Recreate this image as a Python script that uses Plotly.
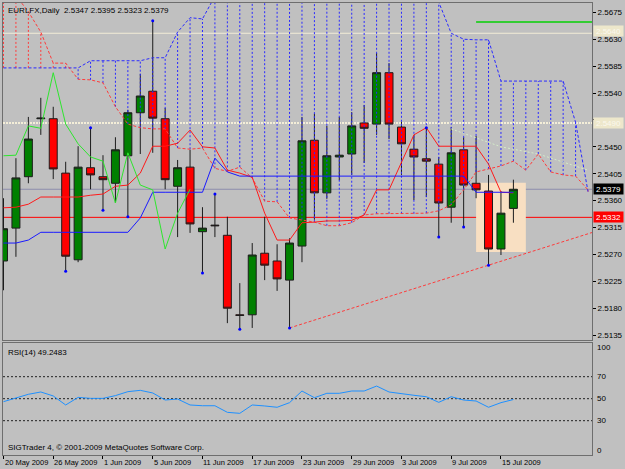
import plotly.graph_objects as go

# ---------------- data ----------------
bars = list(range(42))  # 20 May 2009 .. 16 Jul 2009 (daily)
opens = [2.5259, 2.5314, 2.5400, 2.5497, 2.5497, 2.5406, 2.5261, 2.5415, 2.5400, 2.5389,
         2.5435, 2.5507, 2.5543, 2.5497, 2.5384, 2.5416, 2.5308, 2.5319, 2.5302, 2.5169,
         2.5169, 2.5272, 2.5259, 2.5227, 2.5284, 2.5461, 2.5373, 2.5433, 2.5438, 2.5490,
         2.5488, 2.5574, 2.5483, 2.5446, 2.5430, 2.5421, 2.5349, 2.5445, 2.5389, 2.5376,
         2.5279, 2.5347]
highs = [2.5364, 2.5431, 2.5500, 2.5532, 2.5517, 2.5425, 2.5451, 2.5482, 2.5436, 2.5466,
         2.5512, 2.5572, 2.5661, 2.5515, 2.5428, 2.5445, 2.5349, 2.5371, 2.5333, 2.5222,
         2.5289, 2.5333, 2.5287, 2.5297, 2.5500, 2.5505, 2.5485, 2.5500, 2.5508, 2.5520,
         2.5607, 2.5590, 2.5492, 2.5470, 2.5482, 2.5433, 2.5483, 2.5466, 2.5468, 2.5403,
         2.5376, 2.5395]
lows = [2.5210, 2.5266, 2.5389, 2.5470, 2.5396, 2.5242, 2.5257, 2.5379, 2.5344, 2.5356,
        2.5333, 2.5438, 2.5440, 2.5379, 2.5299, 2.5306, 2.5239, 2.5299, 2.5155, 2.5145,
        2.5147, 2.5227, 2.5209, 2.5147, 2.5257, 2.5328, 2.5363, 2.5394, 2.5403, 2.5423,
        2.5470, 2.5463, 2.5403, 2.5361, 2.5366, 2.5299, 2.5323, 2.5316, 2.5364, 2.5252,
        2.5269, 2.5323]
closes = [2.5313, 2.5398, 2.5463, 2.5498, 2.5413, 2.5267, 2.5416, 2.5403, 2.5395, 2.5445,
          2.5507, 2.5535, 2.5498, 2.5395, 2.5415, 2.5321, 2.5314, 2.5318, 2.5180, 2.5168,
          2.5269, 2.5252, 2.5229, 2.5289, 2.5460, 2.5373, 2.5435, 2.5436, 2.5485, 2.5481,
          2.5574, 2.5488, 2.5455, 2.5433, 2.5426, 2.5356, 2.5440, 2.5386, 2.5378, 2.5279,
          2.5339, 2.5379]

tenkan = [2.5348, 2.5349, 2.5354, 2.5366, 2.5366, 2.5366, 2.5366, 2.5369, 2.5371, 2.5384,
          2.5386, 2.5406, 2.5451, 2.5451, 2.5456, 2.5478, 2.5450, 2.5448, 2.5411, 2.5406,
          2.5399, 2.5339, 2.5294, 2.5294, 2.5323, 2.5324, 2.5326, 2.5326, 2.5327, 2.5336,
          2.5378, 2.5378, 2.5425, 2.5470, 2.5482, 2.5451, 2.5451, 2.5451, 2.5451, 2.5421,
          2.5374, 2.5373]
kijun = [2.5289, 2.5289, 2.5294, 2.5307, 2.5307, 2.5307, 2.5307, 2.5307, 2.5307, 2.5307,
         2.5307, 2.5331, 2.5374, 2.5374, 2.5374, 2.5374, 2.5374, 2.5431, 2.5408, 2.5401,
         2.5401, 2.5401, 2.5401, 2.5401, 2.5401, 2.5401, 2.5401, 2.5401, 2.5401, 2.5401,
         2.5401, 2.5401, 2.5401, 2.5401, 2.5401, 2.5401, 2.5401, 2.5401, 2.5374, 2.5374,
         2.5374, 2.5374]
chikou_shift = 26

cloud_bars = list(range(48))
span_a = [2.5730, 2.5704, 2.5676, 2.5642, 2.5590, 2.5590, 2.5563, 2.5562, 2.5557, 2.5517,
          2.5488, 2.5482, 2.5480, 2.5480, 2.5448, 2.5446, 2.5448, 2.5414, 2.5409, 2.5416,
          2.5398, 2.5359, 2.5358, 2.5331, 2.5328, 2.5324, 2.5318, 2.5318, 2.5323, 2.5336,
          2.5338, 2.5338, 2.5338, 2.5338, 2.5339, 2.5343, 2.5353, 2.5378, 2.5408, 2.5413,
          2.5418, 2.5426, 2.5411, 2.5438, 2.5408, 2.5403, 2.5401, 2.5378]
span_b = [2.5582, 2.5582, 2.5582, 2.5582, 2.5582, 2.5582, 2.5582, 2.5594, 2.5594, 2.5594,
          2.5594, 2.5594, 2.5599, 2.5599, 2.5642, 2.5666, 2.5664, 2.5702, 2.5725, 2.5725,
          2.5725, 2.5725, 2.5725, 2.5725, 2.5725, 2.5725, 2.5725, 2.5725, 2.5725, 2.5725,
          2.5725, 2.5725, 2.5725, 2.5725, 2.5710, 2.5692, 2.5640, 2.5630, 2.5629, 2.5629,
          2.5560, 2.5560, 2.5560, 2.5560, 2.5560, 2.5560, 2.5491, 2.5375]

pale_bars = [36, 40, 43, 45, 47]
pale_vals = [2.5480, 2.5450, 2.5438, 2.5424, 2.5411]

fractal_low_bars = [5, 8, 10, 16, 19, 23, 35, 37, 39]
fractal_high_bars = [7, 12, 17, 34]

rsi = [47.3, 50.9, 54.0, 56.1, 52.5, 44.3, 51.2, 50.3, 50.3, 52.8,
       56.4, 57.6, 55.2, 48.8, 49.7, 44.3, 43.6, 43.6, 37.6, 36.7,
       44.3, 43.4, 42.2, 46.4, 57.0, 50.9, 54.9, 54.9, 57.0, 57.0,
       61.5, 56.1, 54.3, 53.1, 51.8, 46.7, 51.8, 48.8, 47.9, 42.2,
       46.4, 49.2483]
rsi_levels = [70, 50, 30]
rsi_labels = [100, 70, 50, 30, 0]

date_bars = [0, 4, 8, 12, 16, 20, 24, 28, 32, 36, 40]
date_labels = ["20 May 2009", "26 May 2009", "1 Jun 2009", "5 Jun 2009", "11 Jun 2009",
               "17 Jun 2009", "23 Jun 2009", "29 Jun 2009", "3 Jul 2009", "9 Jul 2009",
               "15 Jul 2009"]
price_ticks = [2.5675, 2.5630, 2.5585, 2.5540, 2.5495, 2.5450, 2.5405, 2.5360, 2.5315,
               2.5270, 2.5225, 2.5180, 2.5135]
hidden_ticks = [2.5495]  # covered by the 2.5490 level label in the reference

level_cream_solid = 2.5640
level_cream_dash = 2.5490
level_red = 2.5332
level_bid = 2.5379
level_green = 2.5659
green_start_bar = 38
rect_bars = (38, 42)
rect_prices = (2.5274, 2.5390)
trend_bars = (23, 39)

# ---------------- figure ----------------
X_MIN, X_MAX = -0.04, 47.32
P_MIN, P_MAX = 2.51268, 2.56906
FONT = "Liberation Sans"
BG = "#c0c0c0"
FRAME = "#6e6e6e"

fig = go.Figure()

fig.add_trace(go.Candlestick(
    x=bars, open=opens, high=highs, low=lows, close=closes,
    increasing=dict(line=dict(color="#1c1c1c", width=1), fillcolor="#008000"),
    decreasing=dict(line=dict(color="#1c1c1c", width=1), fillcolor="#ff0000"),
    whiskerwidth=0, showlegend=False, hoverinfo="skip", xaxis="x", yaxis="y"))

# cloud verticals
bx, by, rx, ry = [], [], [], []
for i, a, b in zip(cloud_bars, span_a, span_b):
    if a > b:
        rx += [i, i, None]; ry += [b, a, None]
    else:
        bx += [i, i, None]; by += [a, b, None]
fig.add_trace(go.Scatter(x=bx, y=by, mode="lines", line=dict(color="#2a2aff", width=1, dash="2px,2px"),
                         showlegend=False, hoverinfo="skip", connectgaps=False))
fig.add_trace(go.Scatter(x=rx, y=ry, mode="lines", line=dict(color="#ff3b3b", width=1, dash="2px,2px"),
                         showlegend=False, hoverinfo="skip", connectgaps=False))
fig.add_trace(go.Scatter(x=cloud_bars, y=span_b, mode="lines", line=dict(color="#2a2aff", width=1, dash="3px,2px"),
                         showlegend=False, hoverinfo="skip"))
fig.add_trace(go.Scatter(x=cloud_bars, y=span_a, mode="lines", line=dict(color="#ff3b3b", width=1, dash="3px,2px"),
                         showlegend=False, hoverinfo="skip"))
fig.add_trace(go.Scatter(x=pale_bars, y=pale_vals, mode="lines", line=dict(color="#d4ecc8", width=1, dash="2px,2px"),
                         showlegend=False, hoverinfo="skip"))

# trend line (ray through two lows)
t0, t1 = trend_bars
slope = (lows[t1] - lows[t0]) / (t1 - t0)
fig.add_trace(go.Scatter(x=[t0, X_MAX], y=[lows[t0], lows[t0] + slope * (X_MAX - t0)], mode="lines",
                         line=dict(color="#ff3b3b", width=1, dash="3px,2px"), showlegend=False, hoverinfo="skip"))

# ichimoku lines
fig.add_trace(go.Scatter(x=bars, y=tenkan, mode="lines", line=dict(color="#ff1a1a", width=1),
                         showlegend=False, hoverinfo="skip"))
fig.add_trace(go.Scatter(x=bars, y=kijun, mode="lines", line=dict(color="#1a1aff", width=1),
                         showlegend=False, hoverinfo="skip"))
chikou = closes[chikou_shift:]
fig.add_trace(go.Scatter(x=bars[:len(chikou)], y=chikou, mode="lines", line=dict(color="#2ee62e", width=1),
                         showlegend=False, hoverinfo="skip"))

# fractal dots
fig.add_trace(go.Scatter(x=fractal_low_bars + fractal_high_bars,
                         y=[lows[i] for i in fractal_low_bars] + [highs[i] for i in fractal_high_bars],
                         mode="markers", marker=dict(color="#0000ff", size=3), showlegend=False, hoverinfo="skip"))

# RSI
fig.add_trace(go.Scatter(x=bars, y=rsi, mode="lines", line=dict(color="#1e90ff", width=1),
                         showlegend=False, hoverinfo="skip", xaxis="x2", yaxis="y2"))

shapes = [
    dict(type="rect", xref="x", yref="y", x0=rect_bars[0], x1=rect_bars[1], y0=rect_prices[0], y1=rect_prices[1],
         fillcolor="#f8dfc2", line=dict(width=0), layer="below"),
    dict(type="line", xref="paper", yref="y", x0=0, x1=1, y0=level_cream_solid, y1=level_cream_solid,
         line=dict(color="#f2ecd6", width=1), layer="below"),
    dict(type="line", xref="paper", yref="y", x0=0, x1=1, y0=level_cream_dash, y1=level_cream_dash,
         line=dict(color="#f4eed8", width=2, dash="2px,1px"), layer="below"),
    dict(type="line", xref="paper", yref="y", x0=0, x1=1, y0=level_bid, y1=level_bid,
         line=dict(color="#8c8cac", width=1), layer="below"),
    dict(type="line", xref="paper", yref="y", x0=0, x1=1, y0=level_red, y1=level_red,
         line=dict(color="#ff0000", width=1), layer="below"),
    dict(type="line", xref="x", yref="y", x0=green_start_bar, x1=X_MAX, y0=level_green, y1=level_green,
         line=dict(color="#33cc33", width=2), layer="below"),
]
for lv in rsi_levels:
    shapes.append(dict(type="line", xref="paper", yref="y2", x0=0, x1=1, y0=lv, y1=lv,
                       line=dict(color="#202020", width=1, dash="2px,2px"), layer="below"))

annotations = []
f8 = dict(family=FONT, size=8, color="black")
f75 = dict(family=FONT, size=7.5, color="black")
annotations.append(dict(text="EURLFX,Daily  2.5347 2.5395 2.5323 2.5379", xref="paper", yref="paper",
                        x=0, y=1, xanchor="left", yanchor="top", xshift=3, yshift=-1, showarrow=False, font=f8))
annotations.append(dict(text="RSI(14) 49.2483", xref="paper", yref="y2 domain", x=0, y=1,
                        xanchor="left", yanchor="top", xshift=3, yshift=-3, showarrow=False, font=f8))
annotations.append(dict(text="SIGTrader 4, © 2001-2009 MetaQuotes Software Corp.", xref="paper", yref="y2 domain",
                        x=0, y=0, xanchor="left", yanchor="bottom", xshift=3, yshift=1, showarrow=False, font=f8))
for b, lab in zip(date_bars, date_labels):
    annotations.append(dict(text=lab, xref="x2", yref="paper", x=b, y=0, xanchor="left", yanchor="top",
                            xshift=-1, yshift=-1, showarrow=False, font=f75))
for v in rsi_labels:
    sh = -4 if v == 100 else (3 if v == 0 else 0)
    annotations.append(dict(text=str(v), xref="paper", yref="y2", x=1, y=v, xanchor="left", yanchor="middle",
                            xshift=3, yshift=sh, showarrow=False, font=f8))
for price, bg, fc, ys in [(level_cream_solid, "#ede7cb", "#fbf8ee", 2), (level_cream_dash, "#ede7cb", "#fbf8ee", 0),
                          (level_bid, "#000000", "#ffffff", 0), (level_red, "#ff0000", "#ffffff", 0)]:
    annotations.append(dict(text="%.4f" % price, xref="paper", yref="y", x=1, y=price, xanchor="left",
                            yanchor="middle", xshift=1, yshift=ys, showarrow=False,
                            font=dict(family=FONT, size=8, color=fc),
                            bgcolor=bg, borderpad=0, width=29, height=10))

fig.update_layout(
    width=625, height=469, margin=dict(l=2, r=31, t=3, b=14),
    paper_bgcolor=BG, plot_bgcolor=BG, showlegend=False,
    boxgap=0.36, boxgroupgap=0,
    shapes=shapes, annotations=annotations,
    xaxis=dict(domain=[0, 1], range=[X_MIN, X_MAX], anchor="y", showticklabels=False, ticks="",
               showgrid=False, zeroline=False, showline=True, mirror=True, linecolor=FRAME, linewidth=1,
               rangeslider=dict(visible=False)),
    yaxis=dict(domain=[0.2544, 1], range=[P_MIN, P_MAX], side="right", anchor="x",
               tickvals=price_ticks,
               ticktext=["" if v in hidden_ticks else "%.4f" % v for v in price_ticks],
               ticks="outside", ticklen=3, tickcolor="black", tickfont=f8,
               showgrid=False, zeroline=False, showline=True, mirror=True, linecolor=FRAME, linewidth=1),
    xaxis2=dict(domain=[0, 1], range=[X_MIN, X_MAX], anchor="y2", tickvals=date_bars, ticks="outside",
                ticklen=3, tickcolor="black", showticklabels=False, showgrid=False, zeroline=False,
                showline=True, mirror=True, linecolor=FRAME, linewidth=1),
    yaxis2=dict(domain=[0, 0.24867], range=[-1.18, 101], side="right", anchor="x2", showticklabels=False,
                ticks="", showgrid=False, zeroline=False, showline=True, mirror=True, linecolor=FRAME, linewidth=1),
)

fig.write_html("out.html")
